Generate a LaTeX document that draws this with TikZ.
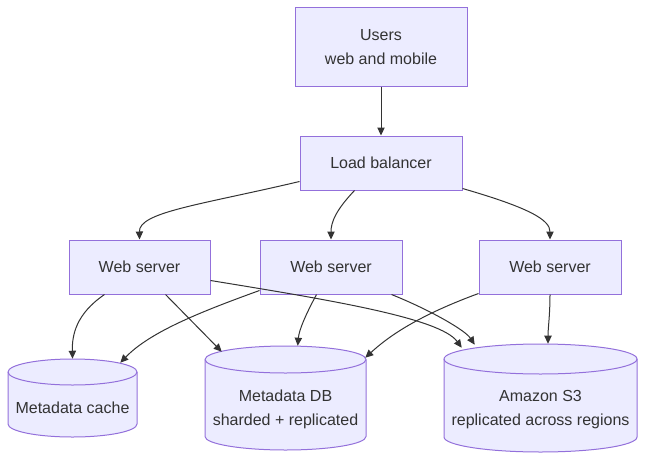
\documentclass[tikz,border=0pt]{standalone}
\usepackage{fontspec}
\setmainfont{Liberation Sans}
\usetikzlibrary{arrows.meta,calc}
\definecolor{boxfill}{HTML}{ECECFF}
\definecolor{boxline}{HTML}{9370DB}
\definecolor{txt}{HTML}{333333}
\begin{document}
\begin{tikzpicture}[x=0.75pt,y=-0.75pt,
  box/.style={draw=boxline,fill=boxfill,line width=0.75pt,inner sep=0pt,align=center,text=txt,
    font=\fontsize{12}{18}\selectfont},
  cylarea/.style={inner sep=0pt,draw=none},
  cyltext/.style={inner sep=0pt,align=center,text=txt,font=\fontsize{12}{18}\selectfont},
  cylshape/.style={draw=boxline,fill=boxfill,line width=0.75pt},
  link/.style={draw=txt,line width=0.75pt,-{Triangle[length=6pt,width=5.5pt]}}]
\useasboundingbox (0,0) rectangle (645,460);
% boxes
\node[box,minimum width=129pt,minimum height=58.5pt] (users) at (381,47) {Users\\web and mobile};
\node[box,minimum width=121.5pt,minimum height=40.5pt] (lb) at (381,163) {Load balancer};
\node[box,minimum width=105.75pt,minimum height=40.5pt] (ws1) at (139.5,267) {Web server};
\node[box,minimum width=106.5pt,minimum height=40.5pt] (ws2) at (331,267) {Web server};
\node[box,minimum width=106.5pt,minimum height=40.5pt] (ws3) at (550,267) {Web server};
% cylinders
\newcommand{\mycyl}[5]{% cx, rx, ytopcenter, ybottomcenter, ry
  \path[cylshape] (#1-#2,#3) -- (#1-#2,#4)
    arc[start angle=180,end angle=0,x radius=#2,y radius=#5]
    -- (#1+#2,#3)
    arc[start angle=0,end angle=-180,x radius=#2,y radius=#5] -- cycle;
  \draw[draw=boxline,line width=0.75pt] (#1-#2,#3) arc[start angle=180,end angle=0,x radius=#2,y radius=#5];
}
\mycyl{72.5}{64.5}{372}{424}{13}
\mycyl{285.5}{80.5}{359.5}{436.5}{13.5}
\mycyl{540.5}{96.5}{359}{437}{15}
\node[cylarea,minimum width=96.75pt,minimum height=58.5pt] (cache) at (72.5,398) {};
\node[cylarea,minimum width=120.75pt,minimum height=78pt] (db) at (285.5,398) {};
\node[cylarea,minimum width=144.75pt,minimum height=81pt] (s3) at (540.5,398) {};
\node[cyltext] (cachetxt) at (72.5,407.5) {Metadata cache};
\node[cyltext] (dbtxt) at (285.5,409.5) {Metadata DB\\sharded + replicated};
\node[cyltext] (s3txt) at (540.5,409.5) {Amazon S3\\replicated across regions};
% connectors
\draw[link] (users.south) -- (lb.north);
\draw[link] ($(lb.south west)+(0,-9)$) .. controls (200,205) and (139,212) .. (ws1.north);
\draw[link] ($(lb.south west)+(55,0)$) .. controls (336,210) and (331,222) .. (ws2.north);
\draw[link] ($(lb.south east)+(0,-2)$) .. controls (530,208) and (550,220) .. (ws3.north);
\draw[link] ($(ws1.south west)+(36,0)$) .. controls (76,314) and (72,335) .. ($(cache.north)+(0,0)$);
\draw[link] ($(ws1.south west)+(97,0)$) -- ($(db.north west)+(17,6)$);
\draw[link] ($(ws1.south east)+(0,-14)$) .. controls (330,300) and (440,318) .. ($(s3.north west)+(18,4)$);
\draw[link] ($(ws2.south west)+(0,-4)$) .. controls (200,312) and (150,332) .. ($(cache.north east)+(-17,4)$);
\draw[link] ($(ws2.south west)+(57,0)$) .. controls (306,314) and (299,330) .. ($(db.north west)+(93,0)$);
\draw[link] ($(ws2.south west)+(132,0)$) .. controls (430,310) and (465,330) .. ($(s3.north west)+(31,1)$);
\draw[link] ($(ws3.south west)+(0,-1)$) .. controls (420,315) and (390,335) .. ($(db.north east)+(-1,12)$);
\draw[link] (ws3.south) .. controls (550,315) and (548,328) .. ($(s3.north)+(7.5,0)$);
\end{tikzpicture}
\end{document}
